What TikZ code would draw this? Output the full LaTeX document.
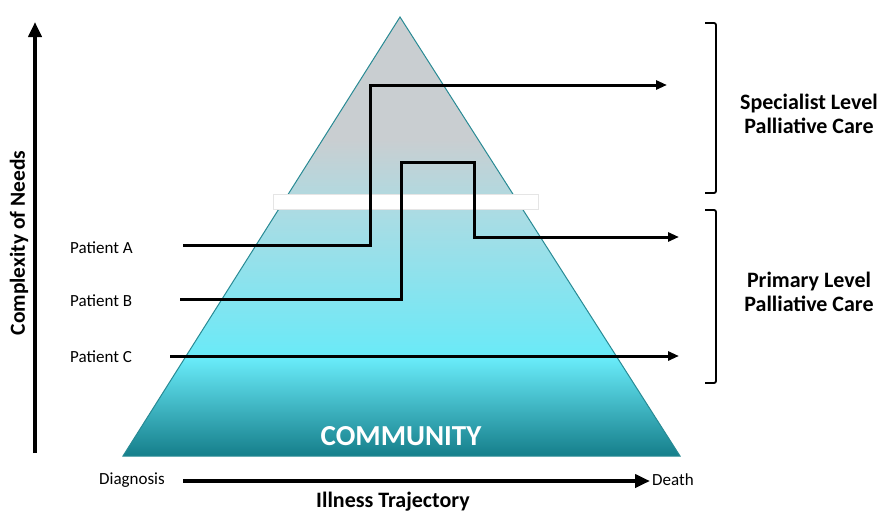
\documentclass[tikz,border=0pt]{standalone}
\usepackage{fontspec}
\setmainfont{Carlito}
\usetikzlibrary{arrows.meta}

\definecolor{pyrgray}{RGB}{201,206,209}
\definecolor{pyrpale}{RGB}{170,220,228}
\definecolor{pyrcyan}{RGB}{104,234,248}
\definecolor{pyrmid}{RGB}{70,190,204}
\definecolor{pyrteal}{RGB}{18,122,134}
\definecolor{pyredge}{RGB}{40,138,148}

\tikzset{patline/.style={line width=3pt,-{Triangle[length=11pt,width=9pt]}},
         axisarrow/.style={line width=4pt,-{Triangle[length=15pt,width=13pt]}},
         bracket/.style={line width=1.8pt,rounded corners=2pt},
         lbl/.style={font=\fontsize{17}{19}\selectfont,inner sep=0pt},
         levlbl/.style={font=\bfseries\fontsize{22}{24}\selectfont,align=center,inner sep=0pt}}

\begin{document}
\begin{tikzpicture}[x=1pt,y=-1pt]
                  \useasboundingbox (0,0) rectangle (881,514);
                  % pyramid
                  \begin{scope}
                  \clip (400,17) -- (680,456) -- (123,456) -- cycle;
                  \fill[pyrgray] (100,10) rectangle (700,140);
                  \shade[top color=pyrgray,bottom color=pyrpale] (100,139.5) rectangle (700,215);
                  \shade[top color=pyrpale,bottom color=pyrcyan] (100,214.5) rectangle (700,360);
                  \shade[top color=pyrcyan,middle color=pyrmid,bottom color=pyrteal] (100,359.5) rectangle (700,460);
                  \end{scope}
                  \draw[pyredge,line width=1pt] (400,17) -- (680,456) -- (123,456) -- cycle;
                  \draw[white!80!gray,fill=white,line width=0.8pt] (273,194) rectangle (538,209);
                  \node[white,font=\bfseries\fontsize{29}{31}\selectfont] (comm) at (401,436) {COMMUNITY};
                  % patients
                  \node[lbl,anchor=west] (pa) at (70,248) {Patient A};
                  \node[lbl,anchor=west] (pb) at (70,301) {Patient B};
                  \node[lbl,anchor=west] (pc) at (70,357) {Patient C};
                  \coordinate (aS) at (183,245);
                  \coordinate (aTurn) at (370,85);
                  \coordinate (aE) at (667,85);
                  \coordinate (bS) at (180,299);
                  \coordinate (bUp) at (401,162);
                  \coordinate (bDown) at (474,237);
                  \coordinate (bE) at (679,237);
                  \coordinate (cS) at (170,356);
                  \coordinate (cE) at (679,356);
                  \draw[patline] (aS) -| (aTurn) -- (aE);
                  \draw[patline] (bS) -| (bUp) -| (bDown) -- (bE);
                  \draw[patline] (cS) -- (cE);
                  % axes
                  \coordinate (yS) at (35,453);
                  \coordinate (yE) at (35,22);
                  \draw[axisarrow] (yS) -- (yE);
                  \node[rotate=90,font=\bfseries\fontsize{21.5}{23}\selectfont] (ylab) at (19,243) {Complexity of Needs};
                  \node[lbl] (diag) at (132,480) {Diagnosis};
                  \node[lbl] (death) at (673,480) {Death};
                  \coordinate (xS) at (183,481);
                  \coordinate (xE) at (650,481);
                  \draw[axisarrow] (xS) -- (xE);
                  \node[font=\bfseries\fontsize{22}{24}\selectfont] (xlab) at (393,502) {Illness Trajectory};
                  % care levels
                  \draw[bracket] (705,23) -- (716,23) -- (716,193) -- (705,193);
                  \draw[bracket] (705,210) -- (716,210) -- (716,383) -- (705,383);
                  \node[levlbl] (spec) at (809,114) {Specialist Level\\Palliative Care};
                  \node[levlbl] (prim) at (809,292) {Primary Level\\Palliative Care};
              \end{tikzpicture}
\end{document}
